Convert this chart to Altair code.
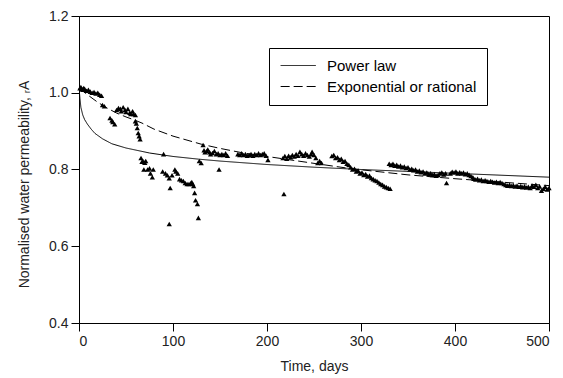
import altair as alt
import pandas as pd

# Measured data (triangles)
obs_days = [
    1, 2, 3, 4, 5, 6, 8, 10, 12, 14, 16, 18, 20, 22, 24, 25, 27,
    33, 35, 36, 38,
    40, 42, 44, 45, 47, 49, 50, 52, 54, 55, 57, 58, 60,
    60, 61, 62, 63, 64, 65, 66, 67, 68, 69, 70, 71, 73, 75, 76, 78, 79,
    90, 89, 92, 94, 96, 97, 96, 99,
    102, 103, 105, 107, 109, 111, 113, 115, 117, 119, 120, 121, 122, 123, 124, 126, 127,
    128, 130, 132,
    133, 134, 136, 137, 139, 140, 142, 144, 146, 148, 150, 152, 154, 156, 158,
    149,
    169, 171, 173, 175, 177, 179, 181, 183, 185, 187, 189, 191, 193, 195, 197, 199, 201,
    218,
    217, 219, 221, 223, 225, 227, 229, 231, 233, 235, 237, 239, 241, 243, 245, 247, 248, 250, 252, 254, 256, 258,
    269, 271, 273, 275, 277, 279, 281, 283, 285, 287,
    289, 291, 293, 295, 297, 299, 301, 303, 305, 307, 309, 311, 313, 315, 317, 319, 321, 323, 325, 327, 329, 331,
    330, 332, 334, 336, 338, 340, 342, 344, 346, 348, 350, 352, 354, 356, 358, 360, 362, 364, 366, 368, 370, 372, 374, 376, 378, 380, 382,
    384, 386, 388, 390, 391,
    395, 397, 399, 401, 403, 405, 407, 409, 411, 413, 415, 417, 419,
    420, 422, 424, 426, 428, 430, 432, 434, 436, 438, 440, 442, 444, 446, 448, 450,
    452, 454, 456, 458, 460, 462, 464, 466, 468, 470, 472, 474, 476, 478, 480,
    482, 484, 486, 488, 490, 492, 494, 496, 498, 500,
]
obs_values = [
    1.012, 1.015, 1.010, 1.008, 1.012, 1.010, 1.005, 1.008, 1.003, 1.000, 1.002, 0.998, 1.000, 0.995, 0.992, 0.968, 0.965,
    0.934, 0.928, 0.924, 0.918,
    0.955, 0.960, 0.958, 0.952, 0.962, 0.955, 0.950, 0.958, 0.948, 0.945, 0.952, 0.945, 0.942,
    0.926, 0.920, 0.908, 0.895, 0.887, 0.879, 0.830, 0.820, 0.822, 0.800, 0.818, 0.822, 0.800, 0.803, 0.790, 0.780, 0.800,
    0.840, 0.795, 0.790, 0.785, 0.777, 0.752, 0.658, 0.785,
    0.800, 0.795, 0.790, 0.775, 0.772, 0.770, 0.765, 0.762, 0.762, 0.765, 0.767, 0.762, 0.757, 0.739, 0.720, 0.710, 0.674,
    0.822, 0.817, 0.864,
    0.850, 0.845, 0.848, 0.852, 0.845, 0.840, 0.843, 0.848, 0.840, 0.842, 0.838, 0.840, 0.838, 0.842, 0.836,
    0.800,
    0.840, 0.838, 0.842, 0.838, 0.840, 0.836, 0.838, 0.840, 0.836, 0.840, 0.838, 0.842, 0.838, 0.840, 0.842, 0.836, 0.825,
    0.736,
    0.830, 0.835, 0.828, 0.836, 0.832, 0.838, 0.834, 0.840, 0.836, 0.846, 0.840, 0.836, 0.842, 0.838, 0.834, 0.840, 0.846, 0.838, 0.830, 0.817, 0.822, 0.817,
    0.835, 0.838, 0.830, 0.832, 0.825, 0.828, 0.820, 0.822, 0.815, 0.812,
    0.806, 0.800, 0.802, 0.795, 0.797, 0.790, 0.792, 0.786, 0.788, 0.782, 0.784, 0.778, 0.775, 0.772, 0.770, 0.766, 0.762, 0.760, 0.756, 0.754, 0.752, 0.750,
    0.815, 0.812, 0.815, 0.810, 0.812, 0.808, 0.810, 0.806, 0.808, 0.804, 0.806, 0.800, 0.802, 0.798, 0.800, 0.795, 0.797, 0.793, 0.795, 0.790, 0.792, 0.788, 0.790, 0.786, 0.788, 0.784, 0.786,
    0.790, 0.792, 0.787, 0.790, 0.765,
    0.790, 0.794, 0.792, 0.795, 0.790, 0.793, 0.790, 0.792, 0.788, 0.790, 0.786, 0.783, 0.780,
    0.776, 0.774, 0.776, 0.772, 0.774, 0.770, 0.772, 0.770, 0.768, 0.770, 0.768, 0.766, 0.768, 0.765, 0.767, 0.765,
    0.762, 0.760, 0.758, 0.760, 0.757, 0.759, 0.756, 0.758, 0.755, 0.757, 0.754, 0.756, 0.753, 0.755, 0.752,
    0.758, 0.755, 0.760, 0.752, 0.756, 0.745, 0.750, 0.755, 0.748, 0.752,
]

# Fitted curves
power_days = [0.5, 1, 2, 4, 6, 9, 13, 17, 25, 35, 50, 75, 100, 127, 150, 200, 250, 300, 350, 400, 450, 500]
power_values = [1.0, 0.985, 0.962, 0.942, 0.930, 0.918, 0.905, 0.894, 0.880, 0.867, 0.856, 0.843, 0.834, 0.827,
                0.822, 0.813, 0.806, 0.800, 0.795, 0.790, 0.785, 0.780]
exp_days = [0, 10, 20, 30, 40, 50, 60, 67, 80, 100, 130, 150, 175, 200, 250, 290, 350, 400, 450, 500]
exp_values = [1.012, 0.993, 0.975, 0.960, 0.947, 0.937, 0.928, 0.921, 0.905, 0.887, 0.866, 0.855, 0.843, 0.834,
              0.816, 0.802, 0.786, 0.776, 0.767, 0.758]

series_names = ["Power law", "Exponential or rational"]

obs = pd.DataFrame({"day": obs_days, "value": obs_values})
fits = pd.concat([
    pd.DataFrame({"day": power_days, "value": power_values, "series": series_names[0]}),
    pd.DataFrame({"day": exp_days, "value": exp_values, "series": series_names[1]}),
])

FONT = "Liberation Sans"

x_scale = alt.Scale(domain=[0, 500], nice=False)
y_scale = alt.Scale(domain=[0.4, 1.2], nice=False)

x_axis = alt.Axis(title="Time, days", values=[0, 100, 200, 300, 400, 500], grid=False)
y_axis = alt.Axis(title="Normalised water permeability, \u1d63A", values=[0.4, 0.6, 0.8, 1.0, 1.2],
                  format=".1f", grid=False, titleY=168)

points = alt.Chart(obs).mark_point(shape="triangle-up", filled=True, color="black", size=28, opacity=1).encode(
    x=alt.X("day:Q", scale=x_scale, axis=x_axis),
    y=alt.Y("value:Q", scale=y_scale, axis=y_axis),
)

lines = alt.Chart(fits).mark_line(color="black", strokeWidth=1).encode(
    x=alt.X("day:Q", scale=x_scale),
    y=alt.Y("value:Q", scale=y_scale),
    strokeDash=alt.StrokeDash(
        "series:N",
        scale=alt.Scale(domain=series_names, range=[[1, 0], [9, 4]]),
        legend=alt.Legend(
            title=None, orient="none", legendX=190, legendY=32,
            strokeColor="black", fillColor="white", padding=10,
            labelFont=FONT, labelFontSize=15, labelColor="black",
            symbolType="M-1,0H5", symbolSize=137, symbolStrokeWidth=1,
            symbolStrokeColor="black", labelOffset=33, rowPadding=5,
        ),
    ),
    order="day:Q",
)

chart = alt.layer(points, lines).properties(
    width=470, height=307,
    autosize=alt.AutoSizeParams(type="none"),
    padding={"left": 79, "top": 16, "right": 14, "bottom": 55},
).configure_view(
    stroke="black", strokeWidth=1
).configure_axis(
    domainColor="black", tickColor="black", tickSize=8, labelFont=FONT, titleFont=FONT,
    labelFontSize=14, titleFontSize=14, labelColor="#222222", titleColor="#222222",
    titleFontWeight="normal", labelPadding=3,
).configure_axisY(
    titlePadding=17,
).configure_axisX(
    titlePadding=11,
)

chart.save("out.html", embed_options={"renderer": "svg", "actions": False})
